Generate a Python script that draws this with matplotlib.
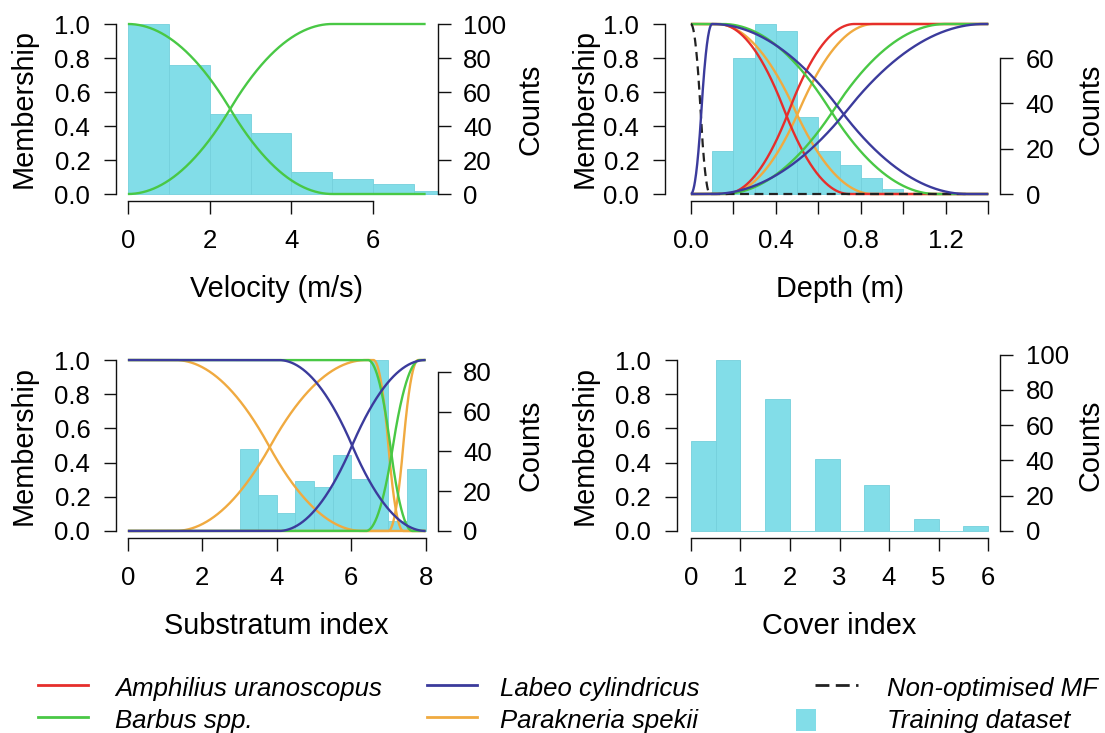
import numpy as np
import matplotlib.pyplot as plt
from matplotlib.lines import Line2D
from matplotlib.patches import Rectangle

plt.rcParams["font.family"] = ["Liberation Sans", "DejaVu Sans"]

W, H = 1105, 733

RED = "#e62e2b"
GREEN = "#49c845"
BLUE = "#3b3b9c"
ORANGE = "#f0aa40"
CYAN = "#82dde8"

# Velocity panel: histogram of training data and MF parameters
vel_edges = [0, 1, 2, 3, 4, 5, 6, 7, 8]
vel_counts = [100, 76, 47, 36, 13, 9, 6, 2]
vel_barbus = [("z", 0.0, 5.0), ("s", 0.0, 5.0)]

# Depth panel
depth_edges = [0.1, 0.2, 0.3, 0.4, 0.5, 0.6, 0.7, 0.8, 0.9, 1.0]
depth_counts = [19, 60, 75, 72, 34, 19, 13, 7, 2]
depth_amphilius = [("z", 0.13, 0.745), ("s", 0.16, 0.77)]
depth_barbus = [("z", 0.15, 1.155), ("s", 0.15, 1.2)]
depth_labeo = [("pi", 0.0, 0.1, 0.1, 1.3), ("s", 0.1, 1.38)]
depth_parakneria = [("z", 0.12, 0.855), ("s", 0.165, 0.86)]
depth_nonopt = [("z", 0.0, 0.09)]

# Substratum panel
sub_edges = [3.0, 3.5, 4.0, 4.5, 5.0, 5.5, 6.0, 6.5, 7.0, 7.5, 8.0]
sub_counts = [41, 18, 9, 25, 22, 38, 26, 86, 5, 31]
sub_barbus = [("z", 6.45, 7.65), ("s", 6.4, 7.85)]
sub_labeo = [("z", 4.05, 8.0), ("s", 4.05, 8.0)]
sub_parakneria = [("z", 1.27, 6.3), ("pi", 1.27, 6.4, 6.6, 7.4), ("s", 7.0, 7.8)]

# Cover panel
cover_edges = [0, 0.5, 1.0, 1.5, 2.0, 2.5, 3.0, 3.5, 4.0, 4.5, 5.0, 5.5, 6.0]
cover_counts = [51, 97, 0, 75, 0, 41, 0, 26, 0, 7, 0, 3]


def smf(x, a, b):
    t = np.clip((x - a) / (b - a), 0, 1)
    return np.where(t < 0.5, 2 * t ** 2, 1 - 2 * (1 - t) ** 2)


def mf(x, shape, *p):
    if shape == "s":
        return smf(x, *p)
    if shape == "z":
        return 1 - smf(x, *p)
    a, b, c, d = p
    return smf(x, a, b) * (1 - smf(x, c, d))


def panel(box, xlim, xticks, xlabels, rticks, edges, counts, left_off=0):
    x0, x1, y0, y1 = box
    ax_h = fig.add_axes([x0 / W, 1 - y1 / H, (x1 - x0) / W, (y1 - y0) / H])
    ax = ax_h.twinx()
    ax.set_zorder(ax_h.get_zorder() + 1)
    ax.patch.set_visible(False)

    # histogram on the counts axis (right)
    m = max(counts)
    ax_h.bar(edges[:-1], counts, width=np.diff(edges), align="edge",
             color=CYAN, edgecolor="#74d0dc", linewidth=0.6)
    ax_h.set_xlim(*xlim)
    ax_h.set_ylim(-0.04 * m, 1.04 * m)

    ax.set_ylim(-0.04, 1.04)
    for a in (ax, ax_h):
        for s in a.spines.values():
            s.set_visible(False)
        a.tick_params(length=9, width=1, labelsize=18.5, pad=9.5, color="#111111")

    # right count axis
    ax_h.yaxis.tick_right()
    ax_h.spines["right"].set_visible(True)
    ax_h.spines["right"].set_bounds(rticks[0], rticks[-1])
    ax_h.set_yticks(rticks)
    ax_h.set_yticklabels([str(v) for v in rticks])

    # left membership axis
    ax.yaxis.tick_left()
    ax.spines["left"].set_visible(True)
    ax.spines["left"].set_bounds(0, 1)
    ax.spines["left"].set_position(("outward", left_off * 0.72))
    ax.set_yticks([0, 0.2, 0.4, 0.6, 0.8, 1.0])
    ax.set_yticklabels(["0.0", "0.2", "0.4", "0.6", "0.8", "1.0"])

    # bottom axis
    ax_h.spines["bottom"].set_visible(True)
    ax_h.spines["bottom"].set_bounds(xticks[0], xticks[-1])
    ax_h.set_xticks(xticks)
    ax_h.set_xticklabels(xlabels)
    ax_h.tick_params(axis="x", pad=11)
    for a in (ax, ax_h):
        for s in a.spines.values():
            s.set_linewidth(1)
            s.set_color("#111111")
    return ax


def draw_mfs(ax, lo, hi, terms, color, **kw):
    x = np.linspace(lo, hi, 800)
    for t in terms:
        ax.plot(x, mf(x, *t), color=color, lw=1.7, solid_capstyle="butt", **kw)


def labels(xc, yc, ml_x, ct_x, xl_y, xlabel):
    fig.text(ml_x / W, 1 - yc / H, "Membership", rotation=90, ha="center",
             va="center", fontsize=20.8)
    fig.text(ct_x / W, 1 - yc / H, "Counts", rotation=90, ha="center",
             va="center", fontsize=20.8)
    fig.text(xc / W, 1 - xl_y / H, xlabel, ha="center", va="baseline",
             fontsize=20.8)


fig = plt.figure(figsize=(W / 100, H / 100), dpi=100)

# Velocity
ax1 = panel((116, 437.5, 17.2, 200.8), (-0.29, 7.57), [0, 2, 4, 6],
            ["0", "2", "4", "6"], [0, 20, 40, 60, 80, 100], vel_edges, vel_counts)
draw_mfs(ax1, 0, 7.28, vel_barbus, GREEN)
labels(276.7, 109, 23.2, 530.5, 297, "Velocity (m/s)")

# Depth
d_ticks = [0, 0.2, 0.4, 0.6, 0.8, 1.0, 1.2, 1.4]
d_labels = ["0.0", "", "0.4", "", "0.8", "", "1.2", ""]
ax2 = panel((679, 1000, 17.2, 200.8), (-0.056, 1.455), d_ticks, d_labels,
            [0, 20, 40, 60], depth_edges, depth_counts, left_off=14)
draw_mfs(ax2, 0, 1.4, depth_parakneria, ORANGE)
draw_mfs(ax2, 0, 1.4, depth_amphilius, RED)
draw_mfs(ax2, 0, 1.4, depth_barbus, GREEN)
x = np.linspace(0, 1.3, 800)
ax2.plot(x, mf(x, *depth_nonopt[0]), color="#222222", lw=1.6, ls=(0, (4, 2.5)))
draw_mfs(ax2, 0, 1.4, depth_labeo, BLUE)
labels(839.5, 109, 584.5, 1090.5, 297, "Depth (m)")

# Substratum
ax3 = panel((116, 437.5, 353.2, 537.8), (-0.32, 8.32), [0, 2, 4, 6, 8],
            ["0", "2", "4", "6", "8"], [0, 20, 40, 60, 80], sub_edges, sub_counts)
draw_mfs(ax3, 0, 8, sub_parakneria, ORANGE)
draw_mfs(ax3, 0, 8, sub_barbus, GREEN)
draw_mfs(ax3, 0, 8, sub_labeo, BLUE)
labels(276.7, 445.5, 23.2, 530.5, 634, "Substratum index")

# Cover
ax4 = panel((679, 1000, 353.2, 537.8), (-0.24, 6.24), [0, 1, 2, 3, 4, 5, 6],
            ["0", "1", "2", "3", "4", "5", "6"], [0, 20, 40, 60, 80, 100],
            cover_edges, cover_counts, left_off=2.3)
labels(839.5, 445.5, 584.5, 1090.5, 634, "Cover index")

# Legend
leg = fig.add_axes([0, 0, 1, 1])
leg.set_xlim(0, W)
leg.set_ylim(H, 0)
leg.axis("off")
leg.patch.set_visible(False)
entries = [
    (38, 685, RED, "Amphilius uranoscopus", 115),
    (38, 716.7, GREEN, "Barbus spp.", 115),
    (426.7, 685, BLUE, "Labeo cylindricus", 500),
    (426.7, 716.7, ORANGE, "Parakneria spekii", 500),
]
for lx, ly, col, txt, tx in entries:
    leg.add_line(Line2D([lx, lx + 50], [ly, ly], color=col, lw=2))
    leg.text(tx, ly + 4, txt, ha="left", va="center", fontsize=18.5, style="italic")
leg.add_line(Line2D([815, 858], [685, 685], color="#222222", lw=2, ls=(0, (5, 2.3))))
leg.text(886.7, 689, "Non-optimised MF", ha="left", va="center", fontsize=18.5,
         style="italic")
leg.add_patch(Rectangle((796, 709), 20, 22, color=CYAN, lw=0))
leg.text(886.7, 720.7, "Training dataset", ha="left", va="center", fontsize=18.5,
         style="italic")

fig.savefig("out.png", dpi=100)
